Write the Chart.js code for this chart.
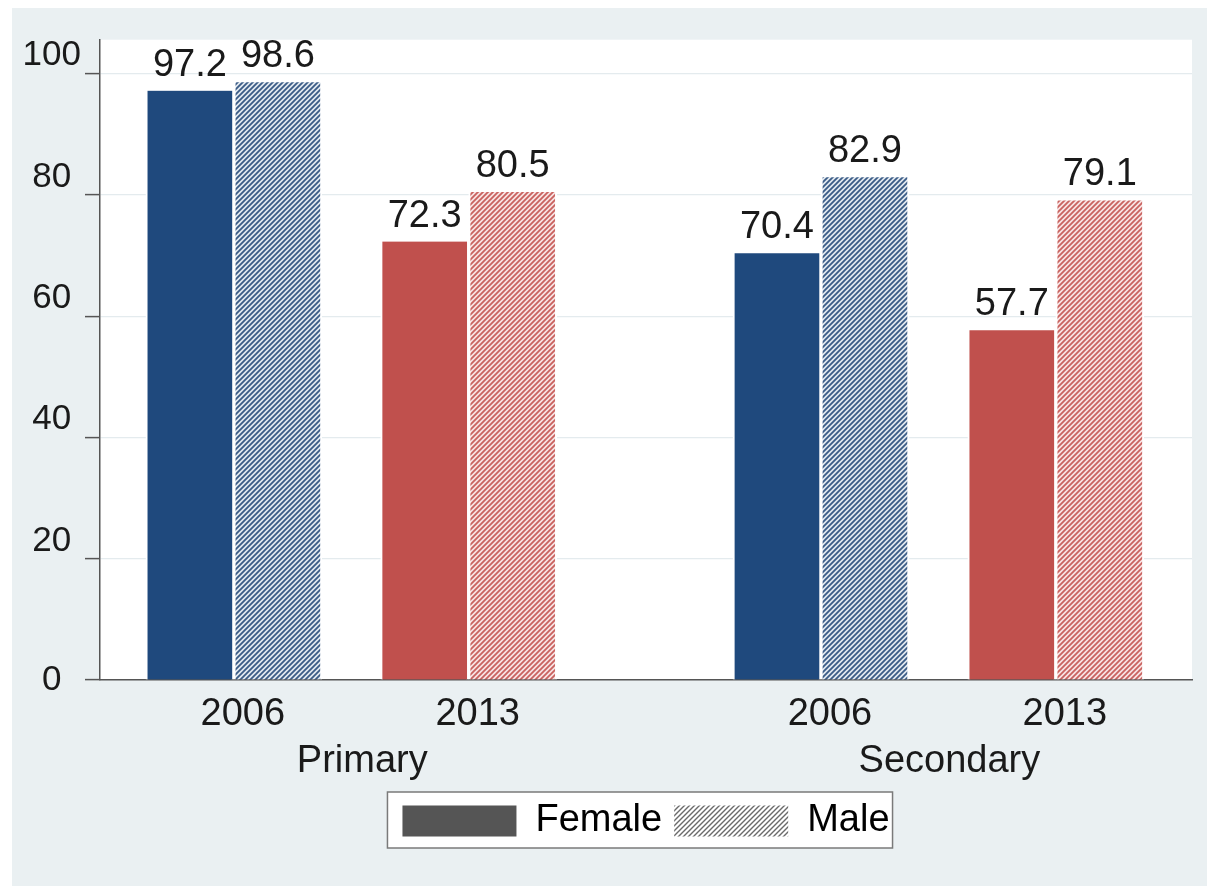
<!DOCTYPE html>
<html>
<head>
<meta charset="utf-8">
<title>Enrolment by level, sex and year</title>
<script src="https://cdn.jsdelivr.net/npm/chart.js@4.4.1/dist/chart.umd.min.js"></script>
<style>
  html, body { margin: 0; padding: 0; background: #ffffff; }
</style>
</head>
<body>
<canvas id="enrol-chart" width="1207" height="886"></canvas>
<script>
// chart values
const years = ['2006', '2013', '2006', '2013'];
const levels = ['Primary', 'Secondary'];
const levelOf = [0, 0, 1, 1];
const female = [97.2, 72.3, 70.4, 57.7];
const male = [98.6, 80.5, 82.9, 79.1];
const yTicks = [0, 20, 40, 60, 80, 100];

// layout: bar pairs are 1 apart within a level, 1.5 apart between levels
const slotX = years.map((_, i) => 0.57 + i + levelOf[i] * 0.5);
const levelX = levels.map((_, g) => {
  const xs = slotX.filter((_, i) => levelOf[i] === g);
  return (xs[0] + xs[xs.length - 1]) / 2;
});

const FONT = "'Liberation Sans', Arial, Helvetica, sans-serif";
const BLUE = '#1f497d';
const RED = '#c0504d';
const PAGE_BG = '#eaf0f2';
const TEXT = '#1a1a1a';

function hatch(color, paper, lineW) {
  const s = 5;
  const c = document.createElement('canvas');
  c.width = s; c.height = s;
  const g = c.getContext('2d');
  g.fillStyle = paper;
  g.fillRect(0, 0, s, s);
  g.strokeStyle = color;
  g.lineWidth = lineW;
  g.beginPath();
  g.moveTo(0, s); g.lineTo(s, 0);
  g.moveTo(-1, 1); g.lineTo(1, -1);
  g.moveTo(s - 1, s + 1); g.lineTo(s + 1, s - 1);
  g.stroke();
  return g.createPattern(c, 'repeat');
}

const blueHatch = hatch('#3a5b86', '#e2e9f0', 1.8);
const redHatch = hatch('#c9625f', '#f8e4e4', 1.8);
const greyHatch = hatch('#6a6a6a', '#ffffff', 1.4);

const femaleColors = years.map((_, i) => (i % 2 === 0 ? BLUE : RED));
const maleColors = years.map((_, i) => (i % 2 === 0 ? blueHatch : redHatch));

Chart.defaults.font.family = FONT;
Chart.defaults.color = TEXT;

const backdrop = {
  id: 'backdrop',
  beforeDraw(chart) {
    const ctx = chart.ctx;
    const a = chart.chartArea;
    ctx.save();
    ctx.fillStyle = '#ffffff';
    ctx.fillRect(0, 0, chart.width, chart.height);
    ctx.fillStyle = PAGE_BG;
    ctx.fillRect(12, 8, chart.width - 12, chart.height - 8);
    ctx.fillStyle = '#ffffff';
    ctx.fillRect(a.left, a.top, a.right - a.left, a.bottom - a.top);

    // frame round the legend
    const boxes = chart.legend.legendHitBoxes;
    if (boxes && boxes.length) {
      const first = boxes[0];
      const last = boxes[boxes.length - 1];
      const x0 = first.left - 15;
      const x1 = last.left + last.width + 3;
      const y0 = first.top - 10;
      const y1 = first.top + first.height + 8;
      ctx.fillStyle = '#ffffff';
      ctx.fillRect(x0, y0, x1 - x0, y1 - y0);
      ctx.strokeStyle = '#7a7a7a';
      ctx.lineWidth = 1.5;
      ctx.strokeRect(x0, y0, x1 - x0, y1 - y0);
    }
    ctx.restore();
  }
};

const barLabels = {
  id: 'barLabels',
  afterDatasetsDraw(chart) {
    const ctx = chart.ctx;
    ctx.save();
    ctx.font = '38px ' + FONT;
    ctx.fillStyle = TEXT;
    ctx.textAlign = 'center';
    ctx.textBaseline = 'alphabetic';
    chart.data.datasets.forEach((ds, di) => {
      chart.getDatasetMeta(di).data.forEach((bar, i) => {
        ctx.fillText(ds.data[i].y.toFixed(1), bar.x, bar.y - 15);
      });
    });
    ctx.restore();
  }
};

const data = {
  datasets: [
    {
      label: 'Female',
      data: female.map((v, i) => ({ x: slotX[i], y: v })),
      backgroundColor: femaleColors,
      borderColor: '#ffffff',
      borderWidth: { left: 2, right: 2, top: 0, bottom: 0 },
      borderSkipped: 'start',
      barThickness: 88
    },
    {
      label: 'Male',
      data: male.map((v, i) => ({ x: slotX[i], y: v })),
      backgroundColor: maleColors,
      borderColor: '#ffffff',
      borderWidth: { left: 2, right: 2, top: 0, bottom: 0 },
      borderSkipped: 'start',
      barThickness: 88
    }
  ]
};

const config = {
  type: 'bar',
  data: data,
  options: {
    responsive: false,
    animation: false,
    layout: { padding: { left: 12, right: 15, top: 38, bottom: 36 } },
    scales: {
      x: {
        type: 'linear',
        min: 0,
        max: 4.65,
        offset: false,
        position: 'bottom',
        grid: { display: false, drawTicks: false },
        border: { display: true, color: '#555555', width: 1.5 },
        ticks: {
          font: { size: 38 },
          color: TEXT,
          padding: 12,
          labelOffset: 9,
          autoSkip: false,
          maxRotation: 0,
          callback: (v, i) => years[i]
        },
        afterBuildTicks: axis => { axis.ticks = slotX.map(v => ({ value: v })); },
        afterFit: axis => { axis.height = 56; }
      },
      xg: {
        type: 'linear',
        min: 0,
        max: 4.65,
        offset: false,
        position: 'bottom',
        grid: { display: false, drawTicks: false },
        border: { display: false },
        ticks: {
          font: { size: 38 },
          color: TEXT,
          padding: 3,
          labelOffset: 11,
          autoSkip: false,
          maxRotation: 0,
          callback: (v, i) => levels[i]
        },
        afterBuildTicks: axis => { axis.ticks = levelX.map(v => ({ value: v })); },
        afterFit: axis => { axis.height = 54; }
      },
      y: {
        min: 0,
        max: 105.6,
        grid: {
          color: '#e4ebee',
          lineWidth: 1.2,
          drawTicks: true,
          tickLength: 15,
          tickColor: '#555555',
          tickWidth: 1.5
        },
        border: { display: true, color: '#555555', width: 1.5 },
        ticks: {
          font: { size: 35, lineHeight: 1.02 },
          color: TEXT,
          padding: 4,
          crossAlign: 'center',
          // labels sit a little above their tick, except the zero
          callback: v => (v === 0 ? '0' : [String(v), ''])
        },
        afterBuildTicks: axis => { axis.ticks = yTicks.map(v => ({ value: v })); },
        afterFit: axis => { axis.width = 88; }
      }
    },
    plugins: {
      tooltip: { enabled: false },
      legend: {
        position: 'bottom',
        fullSize: false,
        onClick: null,
        labels: {
          boxWidth: 114,
          boxHeight: 31,
          padding: 12,
          font: { size: 38 },
          color: TEXT,
          generateLabels: () => [
            { text: 'Female', fillStyle: '#555555', strokeStyle: '#555555', lineWidth: 0, datasetIndex: 0 },
            { text: 'Male', fillStyle: greyHatch, strokeStyle: '#888888', lineWidth: 0, datasetIndex: 1 }
          ]
        }
      }
    }
  },
  plugins: [backdrop, barLabels]
};

const enrolChart = new Chart(document.getElementById('enrol-chart'), config);
</script>
</body>
</html>
